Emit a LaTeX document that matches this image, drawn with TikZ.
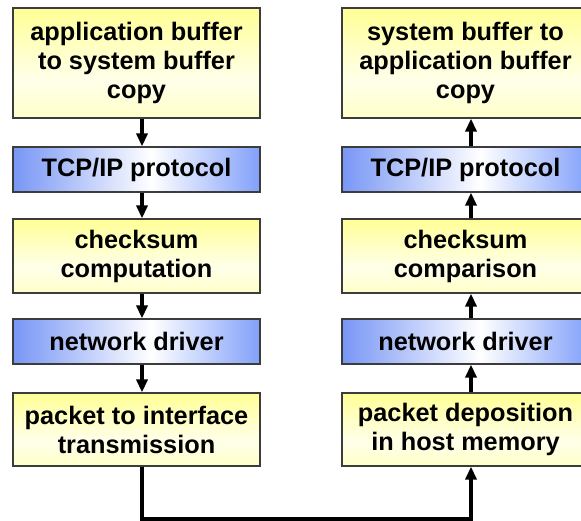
\documentclass[tikz,border=0pt]{standalone}
\usepackage{fontspec}
\setmainfont{Liberation Sans}
\usetikzlibrary{arrows.meta}

\definecolor{boxedge}{RGB}{60,60,60}
\definecolor{ytop}{RGB}{255,255,150}
\definecolor{ymid}{RGB}{255,255,234}
\definecolor{ylow}{RGB}{255,255,200}
\definecolor{bleft}{RGB}{120,150,245}
\definecolor{bright}{RGB}{130,160,250}

% stage boxes: yellow fades down, blue fades to white toward the middle
\pgfdeclareverticalshading{stageyellow}{100bp}{color(0bp)=(ylow); color(25bp)=(ylow); color(42bp)=(ymid); color(75bp)=(ytop); color(100bp)=(ytop)}
\pgfdeclarehorizontalshading{stageblue}{100bp}{color(0bp)=(bleft); color(25bp)=(bleft); color(53bp)=(white); color(75bp)=(bright); color(100bp)=(bright)}

\begin{document}
\begin{tikzpicture}[x=1pt,y=-1pt,
  stage/.style={draw=boxedge, line width=1.2pt, minimum width=247pt, inner sep=0pt,
    align=center, font=\fontsize{25.3}{29}\selectfont\bfseries},
  yel/.style={stage, shading=stageyellow},
  blu/.style={stage, shading=stageblue, minimum height=45pt},
  flow/.style={line width=3.4pt, line join=miter, -{Triangle[length=13pt,width=11pt]}}
]
\useasboundingbox (0,0) rectangle (581,521);
\clip (0,0) rectangle (581,521);

% sending side
\node[yel, minimum height=110pt] (a1) at (136.5,63) {application buffer\\to system buffer\\copy};
\node[blu] (a2) at (136.5,169.5) {TCP/IP protocol};
\node[yel, minimum height=74pt] (a3) at (136.5,256) {checksum\\computation};
\node[blu] (a4) at (136.5,341.5) {network driver};
\node[yel, minimum height=73pt] (a5) at (136.5,429.5) {packet to interface\\transmission};

% receiving side
\node[yel, minimum height=110pt] (b1) at (465.5,63) {system buffer to\\application buffer\\copy};
\node[blu] (b2) at (465.5,169.5) {TCP/IP protocol};
\node[yel, minimum height=74pt] (b3) at (465.5,256) {checksum\\comparison};
\node[blu] (b4) at (465.5,341.5) {network driver};
\node[yel, minimum height=73pt] (b5) at (465.5,429.5) {packet deposition\\in host memory};

% downward flow on the sending side
\foreach \u/\v in {a1/a2,a2/a3,a3/a4,a4/a5}
  \draw[flow] ([xshift=5.5pt]\u.south) -- ([xshift=5.5pt]\v.north);

% upward flow on the receiving side
\foreach \u/\v in {b5/b4,b4/b3,b3/b2,b2/b1}
  \draw[flow] ([xshift=5.5pt]\u.north) -- ([xshift=5.5pt]\v.south);

% link between the two stacks
\coordinate (ta) at ([xshift=5.5pt]a5.south);
\coordinate (tb) at ([xshift=5.5pt]b5.south);
\coordinate (floor) at (0,519);
\draw[flow] (ta) -- (ta |- floor) -- (tb |- floor) -- (tb);
\end{tikzpicture}
\end{document}
